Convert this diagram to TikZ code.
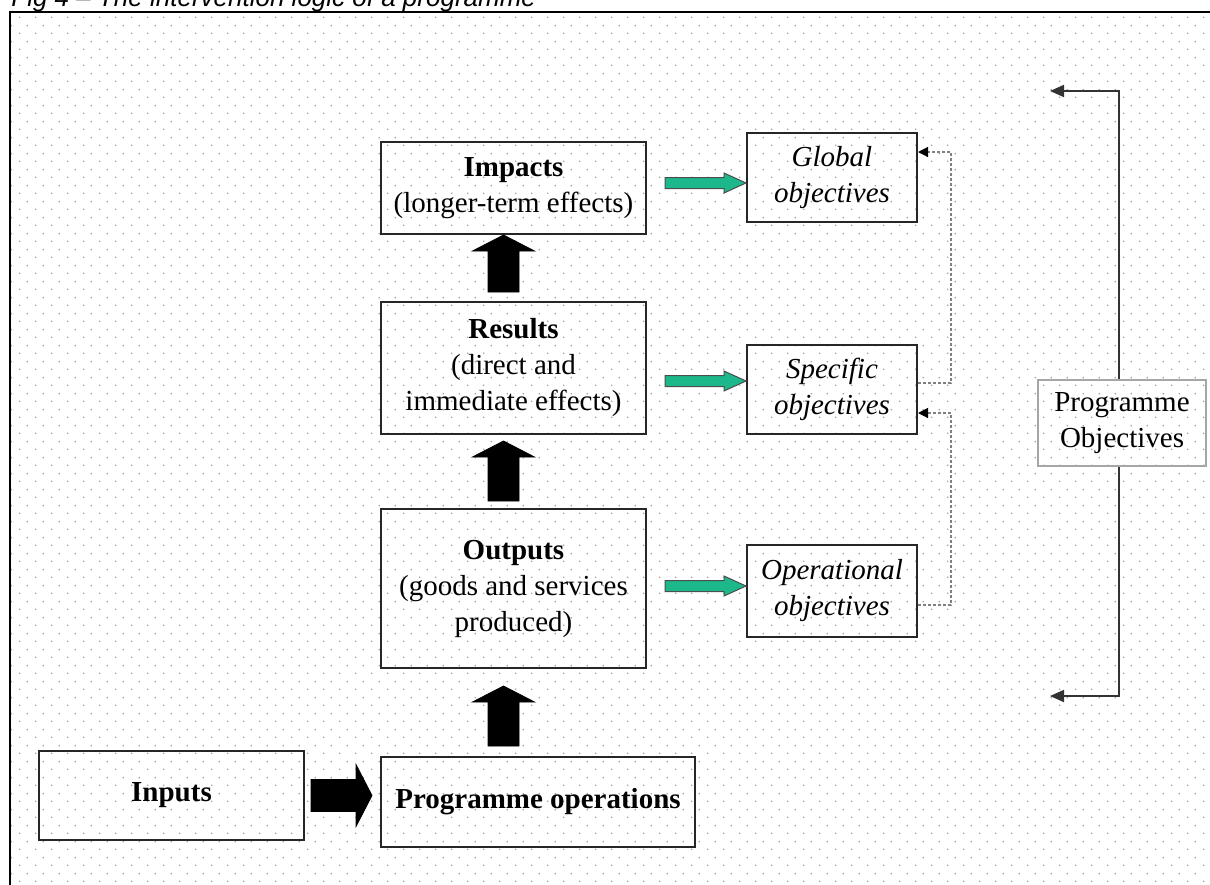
\documentclass[tikz,border=0pt]{standalone}
\usepackage{fontspec}
\setmainfont{Liberation Serif}
\newfontfamily\titlefont{Liberation Sans}
\usetikzlibrary{arrows.meta,calc,patterns.meta}

\definecolor{arrowgreen}{RGB}{28,184,140}
\definecolor{dotgray}{RGB}{165,165,165}

% light dot grid of the drawing area
\tikzdeclarepattern{
  name=dotgrid,
  type=uncolored,
  bounding box={(0pt,0pt) and (8pt,8pt)},
  tile size={(8pt,8pt)},
  code={
    \fill (2pt,2pt) circle (0.5pt);
    \fill (6pt,6pt) circle (0.5pt);
  }
}

% [style] {start} {end} {half shaft} {half head} {head length}
\newcommand\blockarrow[6][]{%
  \coordinate (ba-s) at #2;
  \coordinate (ba-e) at #3;
  \coordinate (ba-b) at ($(ba-e)!#6!(ba-s)$);
  \filldraw[#1] ($(ba-s)!#4!90:(ba-e)$) -- ($(ba-b)!#4!90:(ba-e)$)
    -- ($(ba-b)!#5!90:(ba-e)$) -- (ba-e) -- ($(ba-b)!#5!-90:(ba-e)$)
    -- ($(ba-b)!#4!-90:(ba-e)$) -- ($(ba-s)!#4!-90:(ba-e)$) -- cycle;
}

\begin{document}
\begin{tikzpicture}[x=0.5pt, y=-0.5pt,
	box/.style = {draw=black!85, line width=1pt, align=center, inner sep=2pt,
		font=\fontsize{14.5}{18}\selectfont},
	objbox/.style = {box, minimum width=85pt, minimum height=44.5pt,
		font=\fontsize{14.5}{18}\selectfont\itshape},
	blackarrow/.style = {fill=black, draw=black, line width=0.4pt},
	greenarrow/.style = {fill=arrowgreen, draw=black!70, line width=0.5pt},
	dashlink/.style = {draw=gray, line width=0.6pt, dash pattern=on 1.5pt off 1pt,
		-{Triangle[length=5pt, width=5pt, black]}},
	progline/.style = {draw=black!80, line width=0.9pt,
		-{Triangle[length=7pt, width=6pt]}}]
\useasboundingbox (0,0) rectangle (1210,884);

% title (cut at the top edge) and frame
\node [anchor=base west, inner sep=0pt, font=\titlefont\itshape\fontsize{13}{15}\selectfont]
	(title) at (11,6) {Fig 4 – The intervention logic of a programme};
\fill [pattern=dotgrid, pattern color=dotgray] (10,12) rectangle (1212,886);
\draw [line width=1.1pt] (1215,12) -- (10,12) -- (10,890);

% logic chain
\node [box, minimum width=132.5pt, minimum height=46pt] (impacts) at (513.5,188)
	{\textbf{Impacts}\\(longer-term effects)};
\node [box, minimum width=132.5pt, minimum height=66pt] (results) at (513.5,368)
	{\textbf{Results}\\(direct and\\immediate effects)};
\node [box, minimum width=132.5pt, minimum height=79.5pt] (outputs) at (513.5,588.5)
	{\textbf{Outputs}\\(goods and services\\produced)};
\node [box, minimum width=157pt, minimum height=45pt] (ops) at (538,802)
	{\textbf{Programme operations}};
\node [box, minimum width=132.5pt, minimum height=44.5pt] (inputs) at (171.5,795.5)
	{\textbf{Inputs}};

% objectives
\node [objbox] (global) at (832,177.5) {Global\\objectives};
\node [objbox] (specific) at (832,389.5) {Specific\\objectives};
\node [objbox, minimum height=46pt] (operational) at (832,591) {Operational\\objectives};
\node [box, draw=gray!70, minimum width=84pt, minimum height=43pt] (progobj) at (1122,423)
	{Programme\\Objectives};

% block arrows
\blockarrow[blackarrow]{([xshift=3pt]inputs.east)}{([xshift=-4pt]ops.west |- inputs.east)}{8pt}{15.5pt}{8pt}
\blockarrow[blackarrow]{([xshift=-5pt, yshift=5pt]ops.north -| outputs.south)}{([xshift=-5pt, yshift=-8.5pt]outputs.south)}{7.75pt}{15.5pt}{8pt}
\blockarrow[blackarrow]{([xshift=-5pt, yshift=3.5pt]outputs.north)}{([xshift=-5pt, yshift=-3pt]results.south)}{7.75pt}{15.5pt}{8pt}
\blockarrow[blackarrow]{([xshift=-5pt, yshift=4.5pt]results.north)}{([xshift=-5pt]impacts.south)}{7.75pt}{15.5pt}{8pt}

\blockarrow[greenarrow]{([xshift=9pt, yshift=-2.75pt]impacts.east |- global.west)}{([yshift=-2.75pt]global.west)}{2.75pt}{5pt}{11pt}
\blockarrow[greenarrow]{([xshift=9pt, yshift=4.25pt]results.east |- specific.west)}{([yshift=4.25pt]specific.west)}{2.75pt}{5pt}{11pt}
\blockarrow[greenarrow]{([xshift=9pt, yshift=2.5pt]outputs.east |- operational.west)}{([yshift=2.5pt]operational.west)}{2.75pt}{5pt}{11pt}

% feedback to the objective above
\draw [dashlink] ([yshift=3.25pt]specific.east) -- ++(33,0) |- ([yshift=12.75pt]global.east);
\draw [dashlink] ([yshift=-7pt]operational.east) -- ++(33,0) |- ([yshift=-11.75pt]specific.east);

% programme objectives bracket
\coordinate (topend) at (1050,91);
\coordinate (botend) at (1050,696);
\draw [progline] ([xshift=-1.5pt]progobj.north) |- (topend);
\draw [progline] ([xshift=-1.5pt]progobj.south) |- (botend);
\end{tikzpicture}
\end{document}
